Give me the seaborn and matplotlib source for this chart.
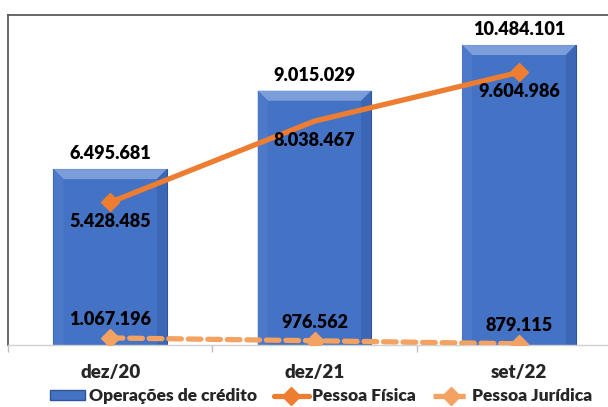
import matplotlib
matplotlib.use('Agg')
import matplotlib.pyplot as plt
import seaborn as sns
import pandas as pd
from matplotlib.lines import Line2D
from matplotlib.patches import Patch, Polygon

# dados
periodos = ['dez/20', 'dez/21', 'set/22']
operacoes_credito = [6495681, 9015029, 10484101]
pessoa_fisica = [5428485, 8038467, 9604986]
pessoa_juridica = [1067196, 976562, 879115]

AZUL = '#4472C4'
LARANJA = '#ED7D31'
LARANJA_CLARO = '#F4A262'


def fmt(v):
    return f'{v:,}'.replace(',', '.')


sns.set_theme(style='white')
plt.rcParams['font.family'] = ['Lato', 'DejaVu Sans']
plt.rcParams['font.weight'] = 'heavy'

fig = plt.figure(figsize=(6.08, 4.07), dpi=100)
ax = fig.add_axes([8 / 608, 1 - 345 / 407, 613 / 608, 330 / 407])

df = pd.DataFrame({'Periodo': periodos, 'Valor': operacoes_credito})
sns.barplot(data=df, x='Periodo', y='Valor', color=AZUL, saturation=1,
            width=0.555, edgecolor='#2F5597', linewidth=0.8, ax=ax, zorder=2)

ax.set_xlim(-0.5, 2.5)
ax.set_ylim(840000, 11450000)

# efeito de chanfro nas barras
fig.canvas.draw()
inv = ax.transData.inverted()
for p in list(ax.patches):
    (x0, y0), (x1, y1) = ax.transData.transform([(p.get_x(), p.get_y()),
                                                 (p.get_x() + p.get_width(), p.get_y() + p.get_height())])
    b = 10
    faces = [
        ([(x0, y1), (x1, y1), (x1 - b, y1 - b), (x0 + b, y1 - b)], '#7B9DDA'),
        ([(x1, y1), (x1, y0), (x1 - b, y0), (x1 - b, y1 - b)], '#3B67B6'),
        ([(x0, y1), (x0 + b, y1 - b), (x0 + b, y0), (x0, y0)], '#4C79C9'),
    ]
    for pts, c in faces:
        ax.add_patch(Polygon(inv.transform(pts), closed=True, facecolor=c,
                             edgecolor='none', zorder=2.5))

x = list(range(len(periodos)))
ax.plot(x, pessoa_fisica, color=LARANJA, lw=3.8, marker='D', ms=9,
        markevery=[0, 2], zorder=4, solid_capstyle='round')
ax.plot(x, pessoa_juridica, color=LARANJA_CLARO, lw=3.8, ls=(0, (2.4, 1.3)),
        marker='D', ms=9, zorder=4, dash_capstyle='round')

lbl = dict(ha='center', fontsize=13, fontweight='heavy', color='black',
           textcoords='offset points', zorder=5)
for i, v in enumerate(operacoes_credito):
    ax.annotate(fmt(v), (i, v), xytext=(0, 5), va='bottom', **lbl)
for i, v in enumerate(pessoa_fisica):
    ax.annotate(fmt(v), (i, v), xytext=(0, -14), va='center', **lbl)
for i, v in enumerate(pessoa_juridica):
    ax.annotate(fmt(v), (i, v), xytext=(0, 13), va='center', **lbl)

ax.set_xlabel('')
ax.set_ylabel('')
ax.set_yticks([])

# eixo x com marcas entre as categorias
ax.set_xticks(x)
ax.set_xticklabels(periodos, fontsize=13.5, fontweight='heavy')
ax.set_xticks([-0.5, 0.5, 1.5, 2.5], minor=True)
ax.tick_params(axis='x', which='major', length=0, pad=14)
ax.tick_params(axis='x', which='minor', length=5, width=1, color='#BFBFBF',
               bottom=True)

for s in ['top', 'left']:
    ax.spines[s].set_visible(True)
    ax.spines[s].set_color('#5A5A5A')
    ax.spines[s].set_linewidth(1.3)
ax.spines['right'].set_visible(False)
ax.spines['bottom'].set_color('#D0D0D0')
ax.spines['bottom'].set_linewidth(1.0)

handles = [
    Patch(facecolor=AZUL, edgecolor='#2F5597'),
    Line2D([], [], color=LARANJA, lw=3.8, marker='D', ms=9),
    Line2D([], [], color=LARANJA_CLARO, lw=3.8, ls=(0, (2.4, 1.3)), marker='D', ms=9),
]
fig.legend(handles, ['Operações de crédito', 'Pessoa Física', 'Pessoa Jurídica'],
           loc='lower center', bbox_to_anchor=(321 / 608, -0.032), ncol=3,
           frameon=False, handlelength=2.0, handleheight=0.55, handletextpad=0.2,
           columnspacing=1.0, prop={'weight': 'heavy', 'size': 12.5})

fig.savefig('out.png', dpi=100)
